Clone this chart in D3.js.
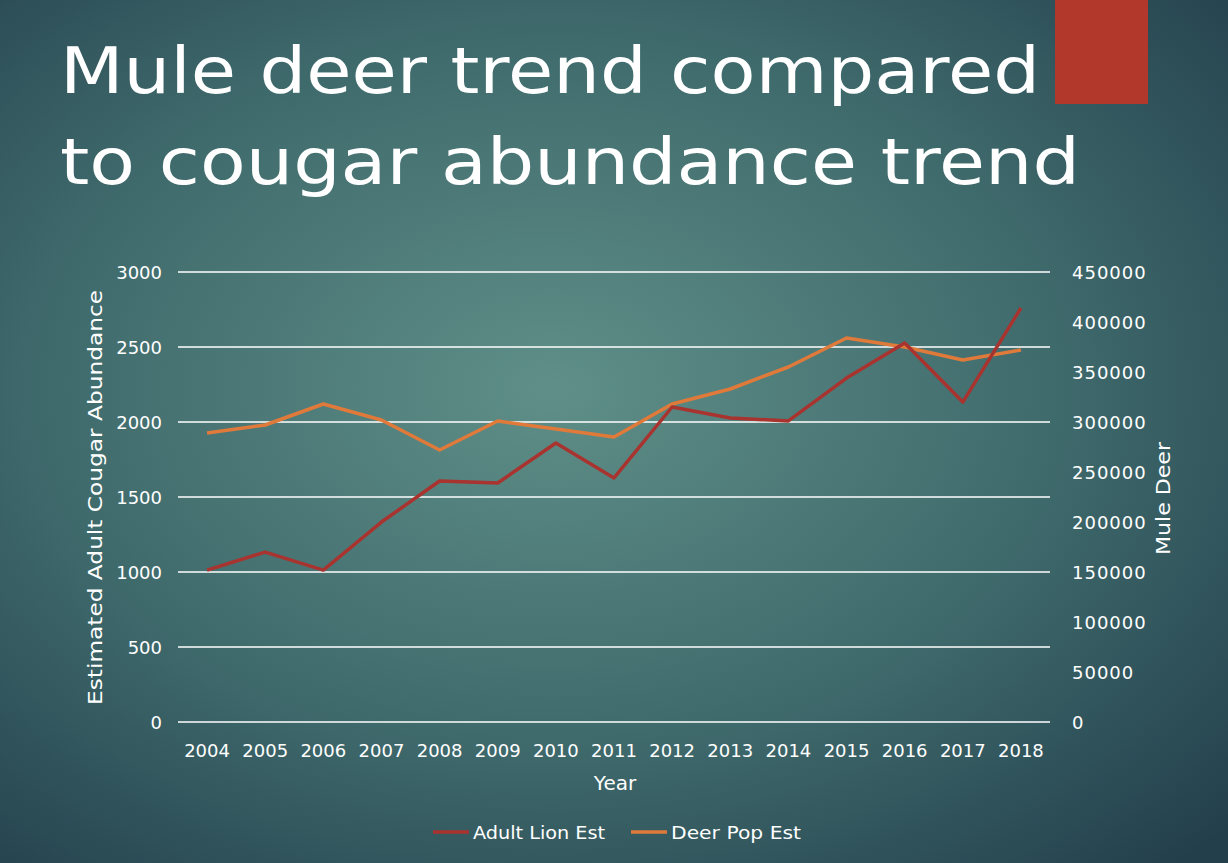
<!DOCTYPE html><html><head><meta charset="utf-8">
<script src="https://cdn.jsdelivr.net/npm/d3@7"></script>
<style>body{margin:0;overflow:hidden}</style></head><body>
<script>
const years=[2004,2005,2006,2007,2008,2009,2010,2011,2012,2013,2014,2015,2016,2017,2018];
const lion=[1013,1133,1013,1333,1607,1593,1860,1627,2100,2027,2007,2293,2527,2133,2760];
const deer=[289000,297000,318000,302000,272000,301000,293000,285000,318000,333000,355000,384000,375000,362000,372000];
const leftTicks=[0,500,1000,1500,2000,2500,3000];
const rightTicks=[0,50000,100000,150000,200000,250000,300000,350000,400000,450000];
const W=1228,H=863,F="'DejaVu Sans',sans-serif";
const svg=d3.select("body").append("svg").attr("width",W).attr("height",H);
const defs=svg.append("defs");
const g=defs.append("radialGradient").attr("id","bg").attr("cx","45%").attr("cy","45%").attr("r","75%");
g.append("stop").attr("offset","0%").attr("stop-color","#5f8f88");
g.append("stop").attr("offset","55%").attr("stop-color","#3f6a6c");
g.append("stop").attr("offset","100%").attr("stop-color","#233f4c");
svg.append("rect").attr("width",W).attr("height",H).attr("fill","url(#bg)");
svg.append("rect").attr("x",1055).attr("y",0).attr("width",93).attr("height",104).attr("fill","#b2382b");
const tf="'DejaVu Sans',sans-serif";
svg.append("text").attr("fill","#fff").attr("font-family",tf).attr("font-size",64).attr("x",60).attr("y",93)
 .attr("textLength",980).attr("lengthAdjust","spacingAndGlyphs").text("Mule deer trend compared");
svg.append("text").attr("fill","#fff").attr("font-family",tf).attr("font-size",64).attr("x",60).attr("y",184)
 .attr("textLength",1020).attr("lengthAdjust","spacingAndGlyphs").text("to cougar abundance trend");
const x0=178,x1=1050;
const x=d3.scalePoint().domain(years).range([x0,x1]).padding(0.5);
const yL=d3.scaleLinear().domain([0,3000]).range([722,272]);
const yR=d3.scaleLinear().domain([0,450000]).range([722,272]);
svg.append("g").selectAll("line").data(leftTicks).join("line").attr("x1",x0).attr("x2",x1)
 .attr("y1",d=>yL(d)).attr("y2",d=>yL(d)).attr("stroke","#fff").attr("stroke-width",1.5);
svg.append("g").selectAll("text").data(leftTicks).join("text").attr("x",162).attr("y",d=>yL(d)+7)
 .attr("text-anchor","end").attr("fill","#fff").attr("font-family",F).attr("font-size",18).text(d=>d);
svg.append("g").selectAll("text").data(rightTicks).join("text").attr("x",1072).attr("y",d=>yR(d)+7)
 .attr("fill","#fff").attr("font-family",F).attr("font-size",18).attr("letter-spacing",1).text(d=>d);
svg.append("g").selectAll("text").data(years).join("text").attr("x",d=>x(d)).attr("y",757)
 .attr("text-anchor","middle").attr("fill","#fff").attr("font-family",F).attr("font-size",18).text(d=>d);
svg.append("text").attr("x",615).attr("y",790).attr("text-anchor","middle").attr("fill","#fff").attr("font-family",F).attr("font-size",20).text("Year");
svg.append("text").attr("transform","translate(102,705) rotate(-90)").attr("fill","#fff").attr("font-family",F).attr("font-size",20)
 .attr("textLength",415).attr("lengthAdjust","spacingAndGlyphs").text("Estimated Adult Cougar Abundance");
svg.append("text").attr("transform","translate(1170,555) rotate(-90)").attr("fill","#fff").attr("font-family",F).attr("font-size",20)
 .attr("textLength",113).attr("lengthAdjust","spacingAndGlyphs").text("Mule Deer");
const lc="#a8332f",dc="#e07a3a";
svg.append("path").datum(deer).attr("fill","none").attr("stroke",dc).attr("stroke-width",3.5).attr("stroke-linejoin","round")
 .attr("d",d3.line().x((d,i)=>x(years[i])).y(d=>yR(d)));
svg.append("path").datum(lion).attr("fill","none").attr("stroke",lc).attr("stroke-width",3.5).attr("stroke-linejoin","round")
 .attr("d",d3.line().x((d,i)=>x(years[i])).y(d=>yL(d)));
const leg=[["Adult Lion Est",lc,433,132],["Deer Pop Est",dc,631,130]];
leg.forEach(([n,c,lx,tl])=>{
 svg.append("line").attr("x1",lx).attr("x2",lx+36).attr("y1",832).attr("y2",832).attr("stroke",c).attr("stroke-width",3.5);
 svg.append("text").attr("x",lx+40).attr("y",839).attr("fill","#fff").attr("font-family",F).attr("font-size",18)
  .attr("textLength",tl).attr("lengthAdjust","spacingAndGlyphs").text(n);
});
</script></body></html>
